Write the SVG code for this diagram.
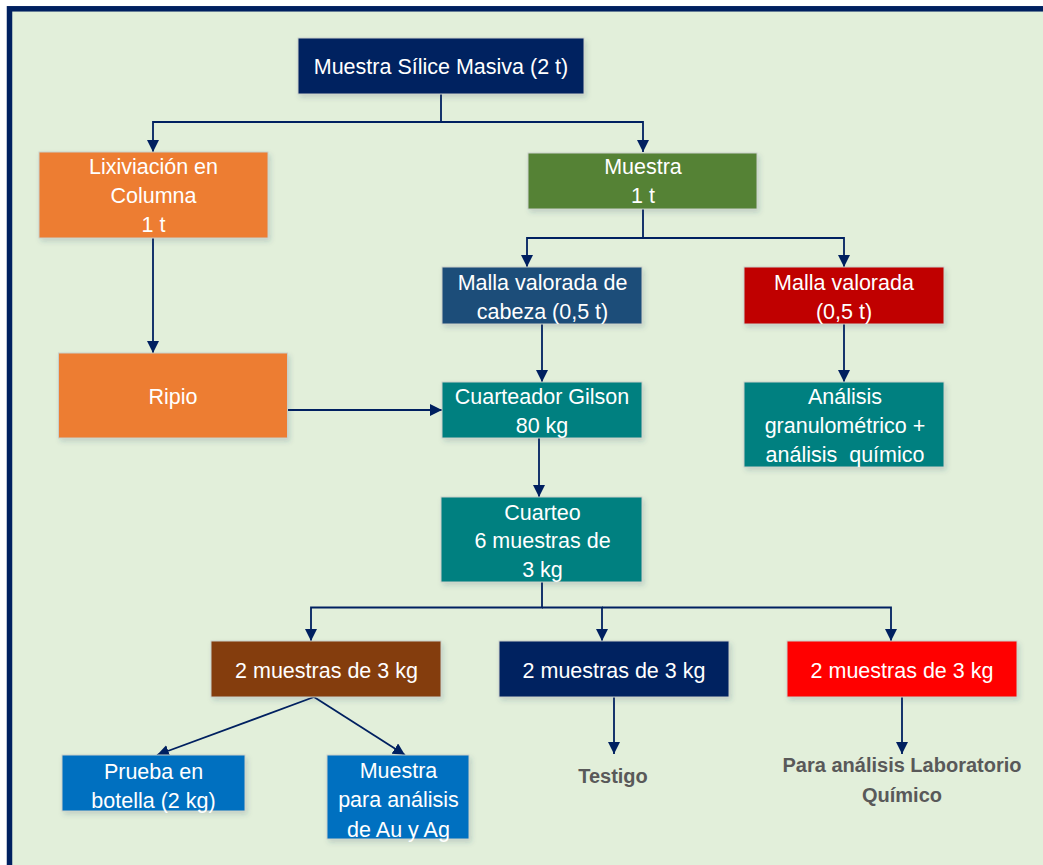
<svg xmlns="http://www.w3.org/2000/svg" width="1043" height="865" viewBox="0 0 1043 865">
<style>
.box{stroke:#c9cfc9;stroke-width:1;filter:url(#sh)}
.t{font-family:"Liberation Sans",Arial,sans-serif;font-size:21.5px;fill:#ffffff;text-anchor:middle}
.lbl{font-family:"Liberation Sans",Arial,sans-serif;font-size:20px;font-weight:bold;fill:#595959;text-anchor:middle}
.c{fill:none;stroke:#002060;stroke-width:1.8;marker-end:url(#ah)}
.cn{fill:none;stroke:#002060;stroke-width:1.8}
</style>
<defs>
<filter id="sh" x="-10%" y="-10%" width="130%" height="140%">
<feDropShadow dx="2" dy="3" stdDeviation="2.5" flood-color="#334466" flood-opacity="0.18"/>
</filter>
<marker id="ah" markerUnits="userSpaceOnUse" markerWidth="12" markerHeight="12" refX="12" refY="6" orient="auto">
<path d="M0,0 L12,6 L0,12 z" fill="#002060"/>
</marker>
</defs>
<rect x="0" y="0" width="1043" height="865" fill="#ffffff"/>
<rect x="9.5" y="8.8" width="1100" height="900" fill="#E2EFDA" stroke="#002060" stroke-width="5.5"/>

<g id="connectors">
<path class="c" d="M441,94 V122 H153 V152"/>
<path class="c" d="M441,122 H643 V152"/>
<path class="c" d="M153,238 V353"/>
<path class="c" d="M643,209 V238 H527 V267"/>
<path class="c" d="M643,238 H844 V267"/>
<path class="c" d="M542,324 V382"/>
<path class="c" d="M844,324 V382"/>
<path class="c" d="M288,410 H442"/>
<path class="c" d="M539,438 V497"/>
<path class="c" d="M542,582 V607.5 H311 V641"/>
<path class="c" d="M542,607.5 H602 V641"/>
<path class="c" d="M602,607.5 H891 V641"/>
<path class="c" d="M314,697 L157,755"/>
<path class="c" d="M314,697 L405,755"/>
<path class="c" d="M614,697 V754"/>
<path class="c" d="M902,697 V754"/>
</g>

<g id="n-top">
<rect class="box" x="298" y="38" width="286" height="56" fill="#002060"/>
<text class="t" x="441" y="74">Muestra Sílice Masiva (2 t)</text>
</g>
<g id="n-lix">
<rect class="box" x="39" y="152" width="229" height="86" fill="#ED7D31"/>
<text class="t" x="153.5" y="174">Lixiviación en</text>
<text class="t" x="153.5" y="203">Columna</text>
<text class="t" x="153.5" y="231.5">1 t</text>
</g>
<g id="n-muestra">
<rect class="box" x="528" y="153" width="229" height="56" fill="#548235"/>
<text class="t" x="643" y="174">Muestra</text>
<text class="t" x="643" y="202.5">1 t</text>
</g>
<g id="n-cabeza">
<rect class="box" x="442" y="267" width="200" height="57" fill="#1F4E79"/>
<text class="t" x="542.5" y="289.5">Malla valorada de</text>
<text class="t" x="542.5" y="318.5">cabeza (0,5 t)</text>
</g>
<g id="n-malla">
<rect class="box" x="744" y="267" width="200" height="57" fill="#C00000"/>
<text class="t" x="844" y="289.5">Malla valorada</text>
<text class="t" x="844" y="318.5">(0,5 t)</text>
</g>
<g id="n-ripio">
<rect class="box" x="58.5" y="353" width="229" height="85" fill="#ED7D31"/>
<text class="t" x="173" y="404">Ripio</text>
</g>
<g id="n-gilson">
<rect class="box" x="442" y="382" width="200" height="56" fill="#008080"/>
<text class="t" x="542" y="404">Cuarteador Gilson</text>
<text class="t" x="542" y="432.5">80 kg</text>
</g>
<g id="n-analisis">
<rect class="box" x="744" y="382" width="200" height="85" fill="#008080"/>
<text class="t" x="845" y="404">Análisis</text>
<text class="t" x="845" y="432.5">granulométrico +</text>
<text class="t" x="845" y="461.5" xml:space="preserve">análisis  químico</text>
</g>
<g id="n-cuarteo">
<rect class="box" x="441" y="497" width="201" height="85" fill="#008080"/>
<text class="t" x="542.5" y="519.5">Cuarteo</text>
<text class="t" x="542.5" y="548">6 muestras de</text>
<text class="t" x="542.5" y="576.5">3 kg</text>
</g>
<g id="n-brown">
<rect class="box" x="211" y="641" width="230" height="56" fill="#843C0C"/>
<text class="t" x="326.5" y="677.5">2 muestras de 3 kg</text>
</g>
<g id="n-navy">
<rect class="box" x="499" y="641" width="230" height="56" fill="#002060"/>
<text class="t" x="614" y="677.5">2 muestras de 3 kg</text>
</g>
<g id="n-red">
<rect class="box" x="787" y="641" width="230" height="56" fill="#FF0000"/>
<text class="t" x="902" y="677.5">2 muestras de 3 kg</text>
</g>
<g id="n-prueba">
<rect class="box" x="62" y="755" width="183" height="56" fill="#0070C0"/>
<text class="t" x="153.5" y="778.5">Prueba en</text>
<text class="t" x="153.5" y="807.5">botella (2 kg)</text>
</g>
<g id="n-auag">
<rect class="box" x="327" y="755" width="142" height="84" fill="#0070C0"/>
<text class="t" x="398.5" y="777.5">Muestra</text>
<text class="t" x="398.5" y="807">para análisis</text>
<text class="t" x="398.5" y="836.5">de Au y Ag</text>
</g>
<g id="n-testigo">
<text class="lbl" x="613" y="783">Testigo</text>
</g>
<g id="n-lab">
<text class="lbl" x="902" y="772">Para análisis Laboratorio</text>
<text class="lbl" x="902" y="802">Químico</text>
</g>
</svg>
